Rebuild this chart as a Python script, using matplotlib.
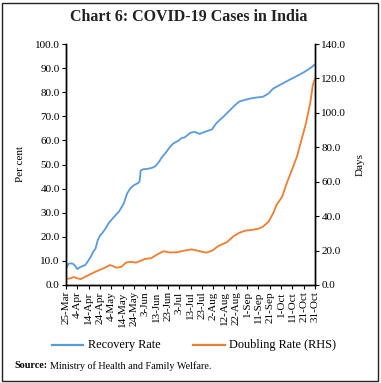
import numpy as np
import matplotlib
matplotlib.use("Agg")
import matplotlib.pyplot as plt
from matplotlib.lines import Line2D
from matplotlib.patches import Rectangle

# ---- data (days since 25-Mar-2020) ----
recovery_day = [0, 2, 4, 6, 8, 10, 12, 15, 17, 19, 22, 24, 26, 28, 30, 32, 35, 38, 42, 47,
                51, 54, 57, 60, 64, 65, 66, 68, 72, 76, 79, 82, 85, 88, 92, 95, 99, 102, 105,
                110, 114, 118, 123, 129, 133, 139, 145, 149, 153, 158, 164, 170, 174, 179,
                183, 189, 196, 204, 211, 217, 220]
recovery_rate = [6.8, 8.7, 9.0, 8.8, 8.0, 6.6, 7.3, 7.9, 8.3, 9.6, 11.8, 13.8, 15.0, 18.5,
                 20.5, 21.5, 23.5, 25.9, 28.0, 30.6, 33.8, 38.0, 40.2, 41.4, 42.4, 43.0, 47.5,
                 48.0, 48.2, 48.6, 49.3, 51.0, 53.2, 54.8, 57.4, 58.8, 59.8, 60.9, 61.3, 63.2,
                 63.5, 62.7, 63.6, 64.6, 67.2, 69.8, 72.6, 74.5, 76.1, 76.8, 77.5, 77.9, 78.1,
                 79.5, 81.5, 83.0, 84.8, 86.7, 88.5, 90.4, 91.5]

doubling_day = [0, 4, 7, 10, 13, 17, 22, 26, 31, 35, 39, 42, 45, 49, 53, 57, 62, 66, 70, 75,
                80, 86, 92, 98, 104, 111, 117, 124, 129, 135, 142, 148, 153, 158, 164, 170,
                174, 179, 183, 186, 191, 195, 199, 204, 208, 212, 216, 218, 220]
doubling_rate = [3.4, 3.9, 4.6, 3.9, 3.4, 4.8, 6.4, 7.7, 9.1, 10.3, 11.6, 10.8, 10.0, 10.6,
                 13.0, 13.5, 13.0, 14.1, 15.2, 15.5, 17.5, 19.6, 18.9, 19.0, 19.9, 20.7, 19.8,
                 18.8, 19.9, 22.8, 24.8, 28.3, 30.3, 31.5, 32.0, 32.7, 33.9, 36.8, 41.6, 46.5,
                 51.3, 59.1, 65.8, 74.5, 84.2, 93.9, 106.5, 116.0, 120.0]

tick_labels = ["25-Mar", "4-Apr", "14-Apr", "24-Apr", "4-May", "14-May", "24-May", "3-Jun",
               "13-Jun", "23-Jun", "3-Jul", "13-Jul", "23-Jul", "2-Aug", "12-Aug", "22-Aug",
               "1-Sep", "11-Sep", "21-Sep", "1-Oct", "11-Oct", "21-Oct", "31-Oct"]

left_ticks = [0, 10, 20, 30, 40, 50, 60, 70, 80, 90, 100]
right_ticks = [0, 20, 40, 60, 80, 100, 120, 140]

series_names = ["Recovery Rate", "Doubling Rate (RHS)"]

BLUE = "#5B9BD5"
ORANGE = "#ED7D31"
SERIF = ["Liberation Serif", "DejaVu Serif"]

W, H = 381, 383
fig = plt.figure(figsize=(W / 100, H / 100), dpi=100)
fig.patch.set_facecolor("white")

# border
fig.add_artist(Rectangle((2 / W, 2 / H), 1 - 5 / W, 1 - 5 / H, transform=fig.transFigure,
                         fill=False, edgecolor="#222222", linewidth=1.0))

ax = fig.add_axes([66 / W, 1 - 285 / H, (315 - 66) / W, (285 - 44) / H])
ax2 = ax.twinx()

ax.plot(recovery_day, recovery_rate, color=BLUE, linewidth=1.3)
ax2.plot(doubling_day, doubling_rate, color=ORANGE, linewidth=1.3)

ax.set_xlim(0, 220)
ax.set_ylim(0, 100)
ax2.set_ylim(0, 140)

ax.set_xticks(np.arange(0, 221, 10))
ax.set_xticklabels(tick_labels, rotation=90, fontsize=8, family=SERIF)
ax.set_yticks(left_ticks)
ax.set_yticklabels([f"{v:.1f}" for v in left_ticks], fontsize=8, family=SERIF)
ax2.set_yticks(right_ticks)
ax2.set_yticklabels([f"{v:.1f}" for v in right_ticks], fontsize=8, family=SERIF)

for a in (ax, ax2):
    a.spines["top"].set_visible(False)
    for s in ("left", "right", "bottom"):
        a.spines[s].set_linewidth(1.0)
        a.spines[s].set_color("black")
    a.tick_params(length=3, width=0.8, pad=1.5, colors="black")

ax.set_ylabel("Per cent", fontsize=8, family=SERIF, labelpad=7)
ax2.set_ylabel("Days", fontsize=8, family=SERIF, labelpad=7)

fig.text(189 / W, 1 - 17 / H, "Chart 6: COVID-19 Cases in India", ha="center", va="center",
         fontsize=11.5, fontweight="bold", family=SERIF, color="#222222")

# legend drawn manually
ly = 1 - 345 / H
fig.add_artist(Line2D([52 / W, 83 / W], [ly, ly], color=BLUE, linewidth=1.6,
                      transform=fig.transFigure))
fig.text(88 / W, ly, series_names[0], ha="left", va="center", fontsize=8.8, family=SERIF)
fig.add_artist(Line2D([193 / W, 225 / W], [ly, ly], color=ORANGE, linewidth=1.6,
                      transform=fig.transFigure))
fig.text(229 / W, ly, series_names[1], ha="left", va="center", fontsize=8.8, family=SERIF)

fig.text(14 / W, 1 - 366 / H, "Source:", ha="left", va="center", fontsize=7.3,
         fontweight="bold", family=SERIF)
fig.text(50 / W, 1 - 366 / H, "Ministry of Health and Family Welfare.", ha="left",
         va="center", fontsize=7.3, family=SERIF)

fig.savefig("out.png", dpi=100)
